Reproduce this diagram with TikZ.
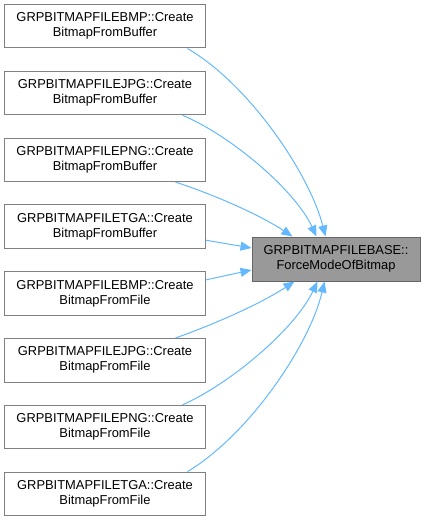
\documentclass[tikz,border=0pt]{standalone}
\usepackage{fontspec}
\setmainfont{Liberation Sans}
\usetikzlibrary{arrows.meta,calc}
\definecolor{edgecol}{HTML}{63B8FF}
\definecolor{leftborder}{HTML}{808080}
\definecolor{midborder}{HTML}{666666}
\definecolor{midfill}{HTML}{999999}
\begin{document}
\begin{tikzpicture}[x=1bp,y=-1bp,
  callerbox/.style={draw=leftborder, line width=1bp, fill=white, minimum width=200bp, minimum height=43.5bp, inner sep=0pt, align=center, font=\fontsize{12.9bp}{15bp}\selectfont},
  targetbox/.style={callerbox, draw=midborder, fill=midfill, minimum width=168bp, minimum height=44bp},
  edge/.style={draw=edgecol, line width=1bp, -{Triangle[length=11bp,width=9bp]}}]
\useasboundingbox (0,0) rectangle (426,520);
\node[callerbox] (n1) at (105,26.25) {GRPBITMAPFILEBMP::Create\\BitmapFromBuffer};
\node[callerbox] (n2) at (105,93.05) {GRPBITMAPFILEJPG::Create\\BitmapFromBuffer};
\node[callerbox] (n3) at (105,159.85) {GRPBITMAPFILEPNG::Create\\BitmapFromBuffer};
\node[callerbox] (n4) at (105,226.65) {GRPBITMAPFILETGA::Create\\BitmapFromBuffer};
\node[callerbox] (n5) at (105,293.45) {GRPBITMAPFILEBMP::Create\\BitmapFromFile};
\node[callerbox] (n6) at (105,360.25) {GRPBITMAPFILEJPG::Create\\BitmapFromFile};
\node[callerbox] (n7) at (105,427.05) {GRPBITMAPFILEPNG::Create\\BitmapFromFile};
\node[callerbox] (n8) at (105,493.85) {GRPBITMAPFILETGA::Create\\BitmapFromFile};
\node[targetbox] (m) at (336,259) {GRPBITMAPFILEBASE::\\ForceModeOfBitmap};
\draw[edge] ($(n1.south east)+(-18,0)$) .. controls (250,85) and (310,175) .. ($(m.north west)+(74,0)$);
\draw[edge] ($(n2.south east)+(-23,0)$) .. controls (230,135) and (295,190) .. ($(m.north west)+(65,0)$);
\draw[edge] ($(n3.south east)+(-30,0)$) .. controls (215,195) and (260,215) .. ($(m.north west)+(41,0)$);
\draw[edge] ($(n4.east)+(0,13.5)$) -- ($(m.west)+(0,-11)$);
\draw[edge] ($(n5.east)+(0,-13.5)$) -- ($(m.west)+(0,11)$);
\draw[edge] ($(n6.north east)+(-30,0)$) .. controls (215,324) and (260,304) .. ($(m.south west)+(43,0)$);
\draw[edge] ($(n7.north east)+(-23,0)$) .. controls (230,384) and (295,329) .. ($(m.south west)+(66,0)$);
\draw[edge] ($(n8.north east)+(-18,0)$) .. controls (250,434) and (310,344) .. ($(m.south west)+(73,0)$);
\end{tikzpicture}
\end{document}
